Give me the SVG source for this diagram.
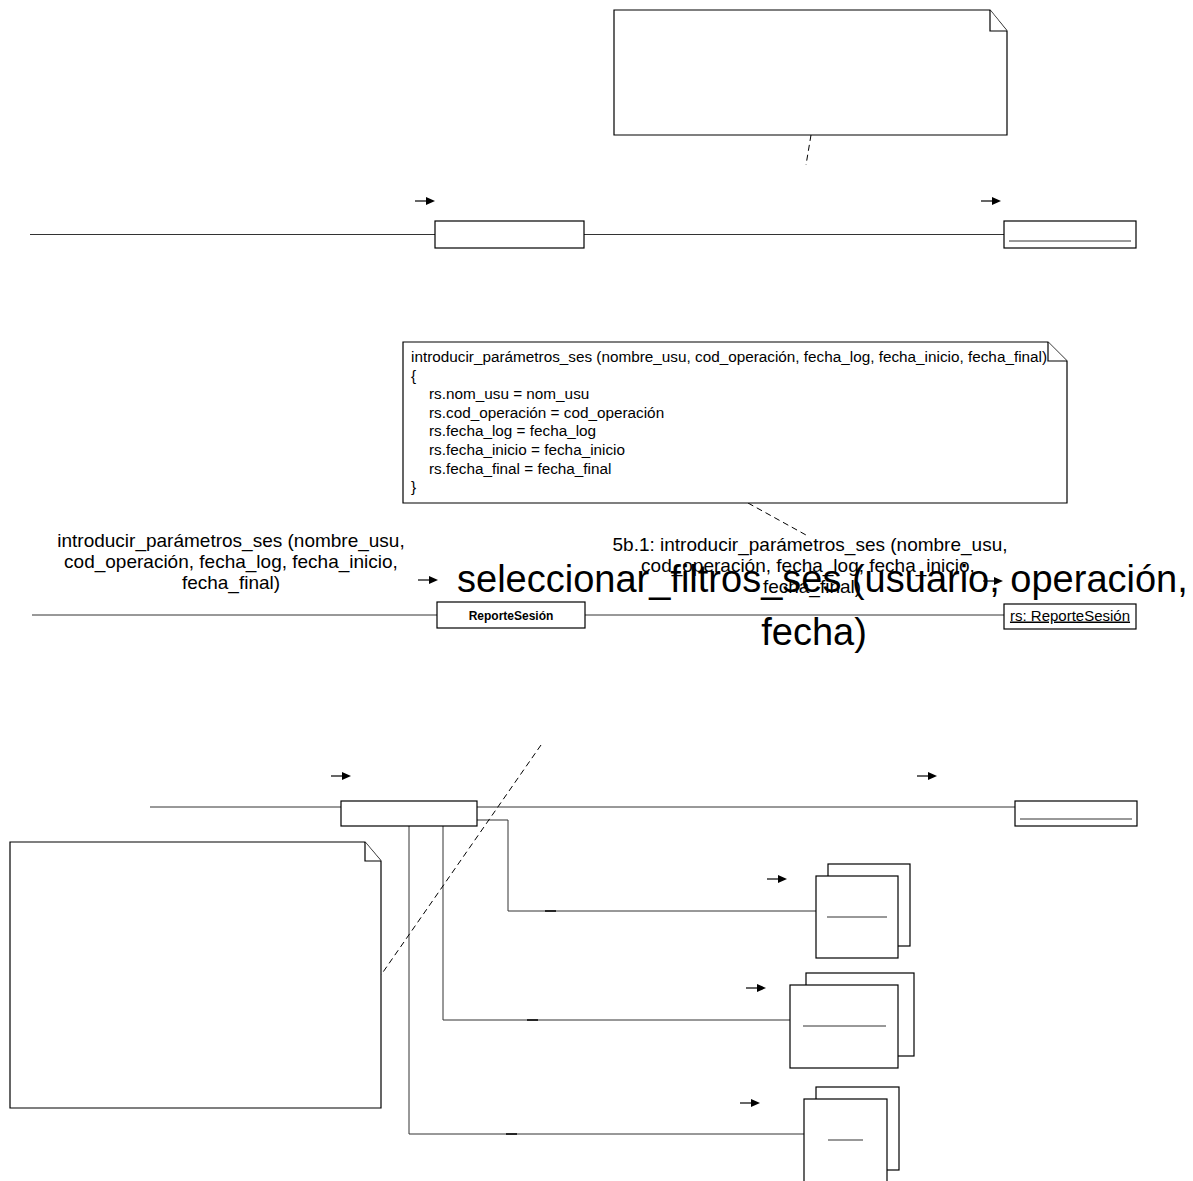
<svg xmlns="http://www.w3.org/2000/svg" width="1193" height="1181" viewBox="0 0 1193 1181">
<defs>
<style>
.ln{stroke:#333;stroke-width:1;fill:none}
.bx{stroke:#000;stroke-width:1.2;fill:#fff}
.note{stroke:#000;stroke-width:1.2;fill:#fff}
.fold{stroke:#000;stroke-width:1.2;fill:#fff}
.dash{stroke:#000;stroke-width:1;stroke-dasharray:6,4;fill:none}
.ar{stroke:#000;stroke-width:1.2}
.t{font-family:"Liberation Sans",Arial,sans-serif;fill:#000}
</style>
<g id="arw"><line x1="0" y1="0" x2="12" y2="0" class="ar"/><polygon points="11,-4 20,0 11,4" fill="#000"/></g>
</defs>
<rect width="1193" height="1181" fill="#fff"/>

<g id="connectors">
  <line class="ln" x1="30" y1="234.5" x2="435" y2="234.5"/>
  <line class="ln" x1="584" y1="234.5" x2="1004" y2="234.5"/>
  <line class="ln" x1="32" y1="615" x2="437" y2="615"/>
  <line class="ln" x1="585" y1="615" x2="1005" y2="615"/>
  <line class="ln" x1="150" y1="807" x2="341" y2="807"/>
  <line class="ln" x1="477" y1="807" x2="1015" y2="807"/>
  <polyline class="ln" points="477,820 508,820 508,911 816,911"/>
  <polyline class="ln" points="443,826 443,1020 790,1020"/>
  <polyline class="ln" points="409,826 409,1134 804,1134"/>
  <line x1="545" y1="911" x2="556" y2="911" stroke="#000" stroke-width="1.5"/>
  <line x1="527" y1="1020" x2="538" y2="1020" stroke="#000" stroke-width="1.5"/>
  <line x1="506" y1="1134" x2="517" y2="1134" stroke="#000" stroke-width="1.5"/>
  <line class="dash" x1="811" y1="135" x2="806" y2="165"/>
  <line class="dash" x1="748" y1="503" x2="806" y2="535"/>
  <line class="dash" x1="541" y1="745" x2="381" y2="975"/>
  <use href="#arw" x="415" y="201"/>
  <use href="#arw" x="981" y="201"/>
  <use href="#arw" x="418" y="580"/>
  <use href="#arw" x="983" y="581"/>
  <use href="#arw" x="331" y="776"/>
  <use href="#arw" x="917" y="776"/>
  <use href="#arw" x="767" y="879"/>
  <use href="#arw" x="746" y="988"/>
  <use href="#arw" x="740" y="1103"/>
</g>

<g id="note-top">
  <path class="note" d="M614,10 H990 L1007,31 V135 H614 Z"/>
  <path class="fold" d="M990,10 V31 H1007"/>
</g>

<g id="obj-r1-a"><rect class="bx" x="435" y="221" width="149" height="27"/></g>
<g id="obj-r1-b">
  <rect class="bx" x="1004" y="221" width="132" height="27"/>
  <line class="ln" x1="1009" y1="241" x2="1131" y2="241"/>
</g>

<g id="note-mid">
  <path class="note" d="M403,342 H1048 L1067,361 V503 H403 Z"/>
  <path class="fold" d="M1048,342 V361 H1067"/>
  <g class="t" font-size="15.3">
    <text x="411" y="362">introducir_parámetros_ses (nombre_usu, cod_operación, fecha_log, fecha_inicio, fecha_final)</text>
    <text x="411" y="380.6">{</text>
    <text x="429" y="399.2">rs.nom_usu = nom_usu</text>
    <text x="429" y="417.8">rs.cod_operación = cod_operación</text>
    <text x="429" y="436.4">rs.fecha_log = fecha_log</text>
    <text x="429" y="455">rs.fecha_inicio = fecha_inicio</text>
    <text x="429" y="473.6">rs.fecha_final = fecha_final</text>
    <text x="411" y="492.2">}</text>
  </g>
</g>

<g id="label-left" class="t" font-size="19" text-anchor="middle">
  <text x="231" y="547">introducir_parámetros_ses (nombre_usu,</text>
  <text x="231" y="568">cod_operación, fecha_log, fecha_inicio,</text>
  <text x="231" y="589">fecha_final)</text>
</g>

<g id="obj-reporte">
  <rect class="bx" x="437" y="602" width="148" height="26"/>
  <text class="t" x="511" y="620" font-size="12" font-weight="bold" text-anchor="middle">ReporteSesión</text>
</g>

<g id="obj-rs">
  <rect class="bx" x="1004" y="604" width="132" height="25"/>
  <text class="t" x="1070" y="620.5" font-size="15" text-anchor="middle" text-decoration="underline">rs: ReporteSesión</text>
</g>

<g id="label-5b1" class="t" font-size="19" text-anchor="middle">
  <text x="810" y="551">5b.1: introducir_parámetros_ses (nombre_usu,</text>
  <text x="808" y="572">cod_operación, fecha_log, fecha_inicio,</text>
  <text x="812" y="593">fecha_final)</text>
</g>

<g id="label-big" class="t" font-size="38">
  <text x="457" y="592">seleccionar_filtros_ses (usuario, operación,</text>
  <text x="814" y="645" text-anchor="middle">fecha)</text>
</g>

<g id="obj-r3-a"><rect class="bx" x="341" y="801" width="136" height="25"/></g>
<g id="obj-r3-b">
  <rect class="bx" x="1015" y="801" width="122" height="25"/>
  <line class="ln" x1="1020" y1="819" x2="1132" y2="819"/>
</g>

<g id="multi-1">
  <rect class="bx" x="828" y="864" width="82" height="82"/>
  <rect class="bx" x="816" y="876" width="82" height="82"/>
  <line class="ln" x1="827" y1="917" x2="887" y2="917"/>
</g>
<g id="multi-2">
  <rect class="bx" x="806" y="973" width="108" height="83"/>
  <rect class="bx" x="790" y="985" width="108" height="83"/>
  <line class="ln" x1="803" y1="1026" x2="886" y2="1026"/>
</g>
<g id="multi-3">
  <rect class="bx" x="816" y="1087" width="83" height="83"/>
  <rect class="bx" x="804" y="1099" width="83" height="83"/>
  <line class="ln" x1="828" y1="1140" x2="863" y2="1140"/>
</g>

<g id="note-bottom">
  <path class="note" d="M10,842 H365 L381,861 V1108 H10 Z"/>
  <path class="fold" d="M365,842 V861 H381"/>
</g>
</svg>
